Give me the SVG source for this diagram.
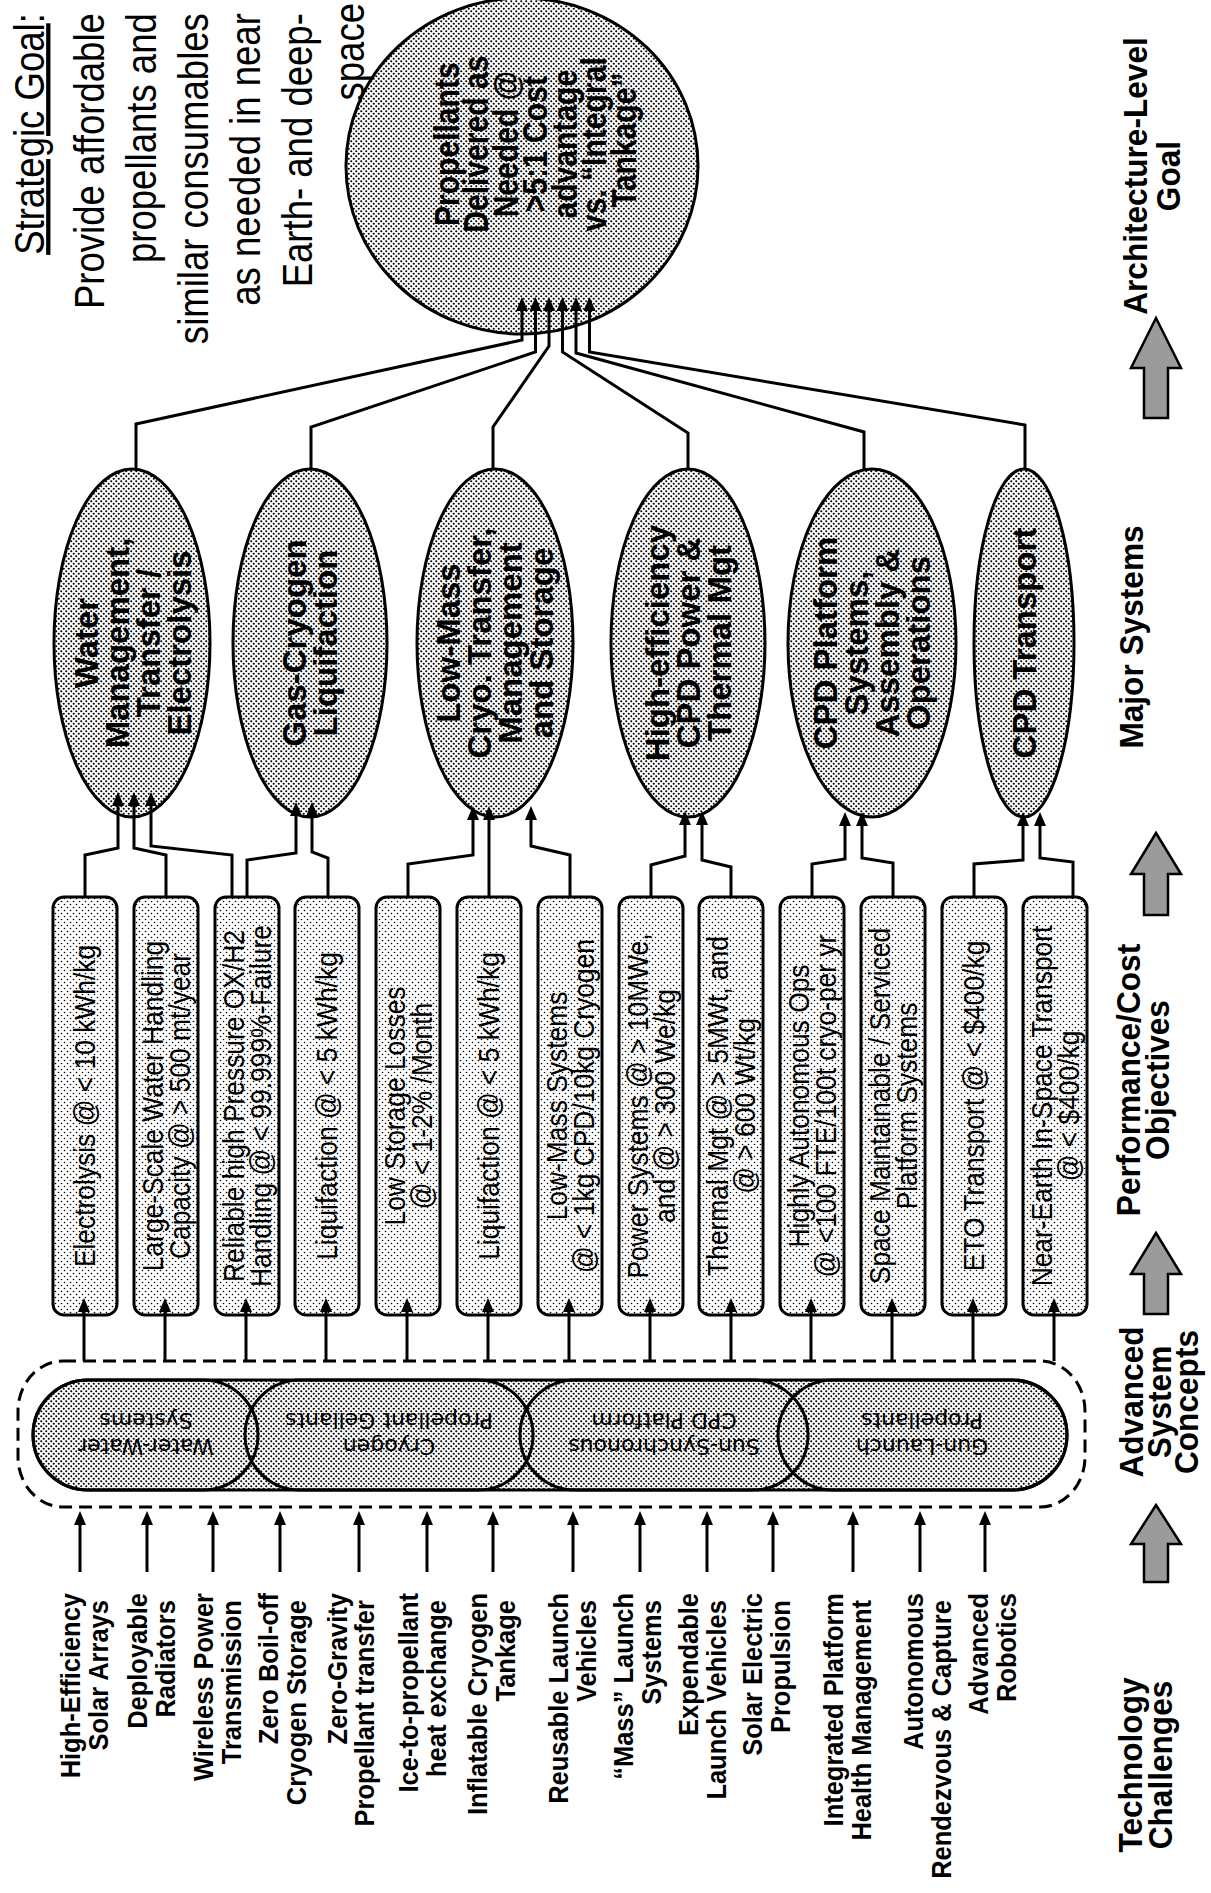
<svg xmlns="http://www.w3.org/2000/svg" width="1211" height="1893" viewBox="0 0 1211 1893">
<defs>
<pattern id="dd" width="5" height="5" patternUnits="userSpaceOnUse"><rect width="5" height="5" fill="#fff"/><circle cx="1.25" cy="1.25" r="1.05" fill="#000"/><circle cx="3.75" cy="3.75" r="1.05" fill="#000"/></pattern>
<pattern id="ld" width="6" height="6" patternUnits="userSpaceOnUse"><rect width="6" height="6" fill="#fff"/><circle cx="1.5" cy="1.5" r="0.8" fill="#000"/><circle cx="4.5" cy="4.5" r="0.8" fill="#000"/></pattern>
<marker id="ah" viewBox="0 0 14 12" refX="6" refY="6" markerWidth="14" markerHeight="12" markerUnits="userSpaceOnUse" orient="auto"><path d="M0,0 L14,6 L0,12 z" fill="#000"/></marker>
<style>
.ln{fill:none;stroke:#000;stroke-width:3}
.ar{marker-end:url(#ah)}
.ell{fill:url(#dd);stroke:#000;stroke-width:3}
.box{fill:url(#ld);stroke:#000;stroke-width:3}
.cap{fill:none;stroke:#000;stroke-width:3}
.sg{font-family:"Liberation Sans",Arial,sans-serif;font-size:43px}
.bt{font-family:"Liberation Sans",Arial,sans-serif;font-weight:bold}
.big{font-size:35px}
.maj{font-size:34px}
.lbl{font-size:34px}
.tc{font-size:28px}
.pt{font-family:"Liberation Sans",Arial,sans-serif;font-size:29px}
.cs{font-family:"DejaVu Sans",sans-serif;font-size:22px}
.garr{fill:#9b9b9b;stroke:#000;stroke-width:2.5}
</style>
</defs>
<rect width="1211" height="1893" fill="#fff"/>

<g id="goal">
<ellipse class="ell" cx="522" cy="166" rx="176" ry="168"/>
<text class="bt big" transform="translate(0,140) rotate(-90) scale(0.86,1)" text-anchor="middle">
<tspan x="0" y="459">Propellants</tspan>
<tspan x="0" y="488.5">Delivered as</tspan>
<tspan x="0" y="518">Needed @</tspan>
<tspan x="0" y="547.5">&gt;5:1 Cost</tspan>
<tspan x="0" y="577">advantage</tspan>
<tspan x="0" y="606.5">vs. “Integral</tspan>
<tspan x="0" y="636">Tankage”</tspan>
</text>
</g>

<g id="strategic-goal">
<text class="sg" transform="translate(0,3) rotate(-90) scale(0.85,1)" text-anchor="end">
<tspan x="0" y="44"><tspan text-decoration="underline">Strategic Goal</tspan>:</tspan>
<tspan x="0" y="104">Provide affordable</tspan>
<tspan x="0" y="156">propellants and</tspan>
<tspan x="0" y="208">similar consumables</tspan>
<tspan x="0" y="260">as needed in near</tspan>
<tspan x="0" y="312">Earth- and deep-</tspan>
<tspan x="0" y="364">space</tspan>
</text>
</g>

<g id="major-systems">
<g id="ms-water"><ellipse class="ell" cx="132" cy="643" rx="78" ry="174"/>
<text class="bt maj" transform="translate(0,643) rotate(-90) scale(0.97,1)" text-anchor="middle"><tspan x="0" y="98">Water</tspan><tspan x="0" y="129">Management,</tspan><tspan x="0" y="160">Transfer /</tspan><tspan x="0" y="191">Electrolysis</tspan></text></g>
<g id="ms-gas"><ellipse class="ell" cx="310" cy="643" rx="77" ry="174"/>
<text class="bt maj" transform="translate(0,643) rotate(-90) scale(0.97,1)" text-anchor="middle"><tspan x="0" y="306">Gas-Cryogen</tspan><tspan x="0" y="337">Liquifaction</tspan></text></g>
<g id="ms-lowmass"><ellipse class="ell" cx="495" cy="643" rx="78" ry="174"/>
<text class="bt maj" transform="translate(0,643) rotate(-90) scale(0.97,1)" text-anchor="middle"><tspan x="0" y="460">Low-Mass</tspan><tspan x="0" y="491">Cryo. Transfer,</tspan><tspan x="0" y="522">Management</tspan><tspan x="0" y="553">and Storage</tspan></text></g>
<g id="ms-power"><ellipse class="ell" cx="688" cy="643" rx="77" ry="174"/>
<text class="bt maj" transform="translate(0,643) rotate(-90) scale(0.97,1)" text-anchor="middle"><tspan x="0" y="669">High-efficiency</tspan><tspan x="0" y="700">CPD Power &amp;</tspan><tspan x="0" y="731">Thermal Mgt</tspan></text></g>
<g id="ms-platform"><ellipse class="ell" cx="872" cy="643" rx="84" ry="174"/>
<text class="bt maj" transform="translate(0,643) rotate(-90) scale(0.97,1)" text-anchor="middle"><tspan x="0" y="837">CPD Platform</tspan><tspan x="0" y="868">Systems,</tspan><tspan x="0" y="899">Assembly &amp;</tspan><tspan x="0" y="930">Operations</tspan></text></g>
<g id="ms-transport"><ellipse class="ell" cx="1024" cy="643" rx="50" ry="174"/>
<text class="bt maj" transform="translate(0,643) rotate(-90) scale(0.97,1)" text-anchor="middle"><tspan x="0" y="1036">CPD Transport</tspan></text></g>
</g>

<g id="objectives">
<g id="ob0"><rect class="box" x="53" y="897" width="64" height="418" rx="11"/><text class="pt" transform="translate(0,1106) rotate(-90) scale(0.91,1)" text-anchor="middle"><tspan x="0" y="95">Electrolysis @ &lt; 10 kWh/kg</tspan></text></g>
<g id="ob1"><rect class="box" x="134" y="897" width="64" height="418" rx="11"/><text class="pt" transform="translate(0,1106) rotate(-90) scale(0.91,1)" text-anchor="middle"><tspan x="0" y="163">Large-Scale Water Handling</tspan><tspan x="0" y="190">Capacity @ &gt; 500 mt/year</tspan></text></g>
<g id="ob2"><rect class="box" x="215" y="897" width="64" height="418" rx="11"/><text class="pt" transform="translate(0,1106) rotate(-90) scale(0.91,1)" text-anchor="middle"><tspan x="0" y="244">Reliable high Pressure OX/H2</tspan><tspan x="0" y="271">Handling @ &lt; 99.999%-Failure</tspan></text></g>
<g id="ob3"><rect class="box" x="295" y="897" width="64" height="418" rx="11"/><text class="pt" transform="translate(0,1106) rotate(-90) scale(0.91,1)" text-anchor="middle"><tspan x="0" y="337">Liquifaction @ &lt; 5 kWh/kg</tspan></text></g>
<g id="ob4"><rect class="box" x="376" y="897" width="64" height="418" rx="11"/><text class="pt" transform="translate(0,1106) rotate(-90) scale(0.91,1)" text-anchor="middle"><tspan x="0" y="405">Low Storage Losses</tspan><tspan x="0" y="432">@ &lt; 1-2% /Month</tspan></text></g>
<g id="ob5"><rect class="box" x="457" y="897" width="64" height="418" rx="11"/><text class="pt" transform="translate(0,1106) rotate(-90) scale(0.91,1)" text-anchor="middle"><tspan x="0" y="499">Liquifaction @ &lt; 5 kWh/kg</tspan></text></g>
<g id="ob6"><rect class="box" x="538" y="897" width="64" height="418" rx="11"/><text class="pt" transform="translate(0,1106) rotate(-90) scale(0.91,1)" text-anchor="middle"><tspan x="0" y="567">Low-Mass Systems</tspan><tspan x="0" y="594">@ &lt; 1kg CPD/10kg Cryogen</tspan></text></g>
<g id="ob7"><rect class="box" x="619" y="897" width="64" height="418" rx="11"/><text class="pt" transform="translate(0,1106) rotate(-90) scale(0.91,1)" text-anchor="middle"><tspan x="0" y="648">Power Systems @ &gt; 10MWe,</tspan><tspan x="0" y="675">and @ &gt; 300 We/kg</tspan></text></g>
<g id="ob8"><rect class="box" x="699" y="897" width="64" height="418" rx="11"/><text class="pt" transform="translate(0,1106) rotate(-90) scale(0.91,1)" text-anchor="middle"><tspan x="0" y="728">Thermal Mgt @ &gt; 5MWt, and</tspan><tspan x="0" y="755">@ &gt; 600 Wt/kg</tspan></text></g>
<g id="ob9"><rect class="box" x="780" y="897" width="64" height="418" rx="11"/><text class="pt" transform="translate(0,1106) rotate(-90) scale(0.91,1)" text-anchor="middle"><tspan x="0" y="809">Highly Autonomous Ops</tspan><tspan x="0" y="836">@ &lt;100 FTE/100t cryo-per yr</tspan></text></g>
<g id="ob10"><rect class="box" x="861" y="897" width="64" height="418" rx="11"/><text class="pt" transform="translate(0,1106) rotate(-90) scale(0.91,1)" text-anchor="middle"><tspan x="0" y="890">Space Maintainable / Serviced</tspan><tspan x="0" y="917">Platform Systems</tspan></text></g>
<g id="ob11"><rect class="box" x="942" y="897" width="64" height="418" rx="11"/><text class="pt" transform="translate(0,1106) rotate(-90) scale(0.91,1)" text-anchor="middle"><tspan x="0" y="984">ETO Transport @ &lt; $400/kg</tspan></text></g>
<g id="ob12"><rect class="box" x="1023" y="897" width="64" height="418" rx="11"/><text class="pt" transform="translate(0,1106) rotate(-90) scale(0.91,1)" text-anchor="middle"><tspan x="0" y="1052">Near-Earth In-Space Transport</tspan><tspan x="0" y="1079">@ &lt; $400/kg</tspan></text></g>
</g>

<g id="concepts">
<rect x="18" y="1361" width="1067" height="146" rx="45" ry="50" fill="none" stroke="#000" stroke-width="3" stroke-dasharray="13 7"/>
<rect x="33" y="1380" width="1034" height="110" rx="55" class="ell"/>
<g id="c-water"><rect class="cap" x="33" y="1380" width="225" height="110" rx="55"/>
<text class="cs" transform="translate(146,1435) rotate(180)" text-anchor="middle"><tspan x="0" y="-4">Water-Water</tspan><tspan x="0" y="22">Systems</tspan></text></g>
<g id="c-gel"><rect class="cap" x="245" y="1380" width="288" height="110" rx="55"/>
<text class="cs" transform="translate(389,1435) rotate(180)" text-anchor="middle"><tspan x="0" y="-4">Cryogen</tspan><tspan x="0" y="22">Propellant Gellants</tspan></text></g>
<g id="c-sun"><rect class="cap" x="520" y="1380" width="288" height="110" rx="55"/>
<text class="cs" transform="translate(664,1435) rotate(180)" text-anchor="middle"><tspan x="0" y="-4">Sun-Synchronous</tspan><tspan x="0" y="22">CPD Platform</tspan></text></g>
<g id="c-gun"><rect class="cap" x="778" y="1380" width="289" height="110" rx="55"/>
<text class="cs" transform="translate(922,1435) rotate(180)" text-anchor="middle"><tspan x="0" y="-4">Gun-Launch</tspan><tspan x="0" y="22">Propellants</tspan></text></g>
</g>

<g id="challenges">
<text class="bt tc" transform="translate(0,1593) rotate(-90) scale(0.91,1)" text-anchor="end">
<tspan x="0" y="80">High-Efficiency</tspan><tspan x="0" y="108">Solar Arrays</tspan>
<tspan x="0" y="147">Deployable</tspan><tspan x="0" y="175">Radiators</tspan>
<tspan x="0" y="213">Wireless Power</tspan><tspan x="0" y="241">Transmission</tspan>
<tspan x="0" y="278">Zero Boil-off</tspan><tspan x="0" y="306">Cryogen Storage</tspan>
<tspan x="0" y="347">Zero-Gravity</tspan><tspan x="0" y="374">Propellant transfer</tspan>
<tspan x="0" y="418">Ice-to-propellant</tspan><tspan x="0" y="446">heat exchange</tspan>
<tspan x="0" y="487">Inflatable Cryogen</tspan><tspan x="0" y="515">Tankage</tspan>
<tspan x="0" y="568">Reusable Launch</tspan><tspan x="0" y="596">Vehicles</tspan>
<tspan x="0" y="633">“Mass” Launch</tspan><tspan x="0" y="661">Systems</tspan>
<tspan x="0" y="698">Expendable</tspan><tspan x="0" y="726">Launch Vehicles</tspan>
<tspan x="0" y="762">Solar Electric</tspan><tspan x="0" y="790">Propulsion</tspan>
<tspan x="0" y="843">Integrated Platform</tspan><tspan x="0" y="871">Health Management</tspan>
<tspan x="0" y="923">Autonomous</tspan><tspan x="0" y="951">Rendezvous &amp; Capture</tspan>
<tspan x="0" y="988">Advanced</tspan><tspan x="0" y="1016">Robotics</tspan>
</text>
</g>

<g id="level-labels">
<text class="bt lbl" transform="translate(0,176) rotate(-90) scale(0.93,1)" text-anchor="middle"><tspan x="0" y="1147">Architecture-Level</tspan><tspan x="0" y="1180">Goal</tspan></text>
<text class="bt lbl" transform="translate(0,637) rotate(-90) scale(0.93,1)" text-anchor="middle"><tspan x="0" y="1143">Major Systems</tspan></text>
<text class="bt lbl" transform="translate(0,1080) rotate(-90) scale(0.93,1)" text-anchor="middle"><tspan x="0" y="1140">Performance/Cost</tspan><tspan x="0" y="1169">Objectives</tspan></text>
<text class="bt lbl" transform="translate(0,1402) rotate(-90) scale(0.93,1)" text-anchor="middle"><tspan x="0" y="1143">Advanced</tspan><tspan x="0" y="1171">System</tspan><tspan x="0" y="1198">Concepts</tspan></text>
<text class="bt lbl" transform="translate(0,1765) rotate(-90) scale(0.93,1)" text-anchor="middle"><tspan x="0" y="1142">Technology</tspan><tspan x="0" y="1172">Challenges</tspan></text>
<polygon class="garr" points="1156,318 1181,368 1168,368 1168,418 1144,418 1144,368 1131,368"/>
<polygon class="garr" points="1156,833 1181,874 1168,874 1168,915 1144,915 1144,874 1131,874"/>
<polygon class="garr" points="1156,1233 1181,1274 1168,1274 1168,1314 1144,1314 1144,1274 1131,1274"/>
<polygon class="garr" points="1156,1505 1181,1544 1168,1544 1168,1582 1144,1582 1144,1544 1131,1544"/>
</g>

<g id="connectors" class="ln">
<path class="ar" d="M136,470 L136,424 L522,340 L522,305"/>
<path class="ar" d="M311,470 L311,427 L535.5,352 L535.5,305"/>
<path class="ar" d="M493,470 L493,427 L549,346 L549,305"/>
<path class="ar" d="M688,470 L688,433 L562.5,352 L562.5,305"/>
<path class="ar" d="M864,470 L864,432 L576,353 L576,305"/>
<path class="ar" d="M1025,469 L1025,425 L589.5,352 L589.5,305"/>

<path class="ar" d="M85,897 L85,855 L118,848 L118,800"/>
<path class="ar" d="M166,897 L166,855 L134,848 L134,800"/>
<path class="ar" d="M232,897 L232,855 L151,846 L151,800"/>
<path class="ar" d="M247,897 L247,860 L296,853 L296,810"/>
<path class="ar" d="M328,897 L328,858 L312,852 L312,810"/>
<path class="ar" d="M408,897 L408,864 L473,855 L473,814"/>
<path class="ar" d="M489,897 L489,814"/>
<path class="ar" d="M570,897 L570,855 L531,846 L531,814"/>
<path class="ar" d="M651,897 L651,865 L685,856 L685,819"/>
<path class="ar" d="M731,897 L731,867 L702,860 L702,819"/>
<path class="ar" d="M812,897 L812,864 L845,859 L845,820"/>
<path class="ar" d="M893,897 L893,863 L862,858 L862,820"/>
<path class="ar" d="M974,897 L974,864 L1023,860 L1023,820"/>
<path class="ar" d="M1073,897 L1073,862 L1040,858 L1040,820"/>

<path class="ar" d="M84,1361 L84,1306"/>
<path class="ar" d="M165,1361 L165,1306"/>
<path class="ar" d="M246,1361 L246,1306"/>
<path class="ar" d="M326,1361 L326,1306"/>
<path class="ar" d="M407,1361 L407,1306"/>
<path class="ar" d="M488,1361 L488,1306"/>
<path class="ar" d="M569,1361 L569,1306"/>
<path class="ar" d="M650,1361 L650,1306"/>
<path class="ar" d="M731,1361 L731,1306"/>
<path class="ar" d="M811,1361 L811,1306"/>
<path class="ar" d="M892,1361 L892,1306"/>
<path class="ar" d="M973,1361 L973,1306"/>
<path class="ar" d="M1054,1361 L1054,1306"/>

<path class="ar" d="M80,1572 L80,1519"/>
<path class="ar" d="M147,1572 L147,1519"/>
<path class="ar" d="M213,1572 L213,1519"/>
<path class="ar" d="M280,1572 L280,1519"/>
<path class="ar" d="M359,1572 L359,1519"/>
<path class="ar" d="M427,1572 L427,1519"/>
<path class="ar" d="M493,1572 L493,1519"/>
<path class="ar" d="M573,1572 L573,1519"/>
<path class="ar" d="M640,1572 L640,1519"/>
<path class="ar" d="M707,1572 L707,1519"/>
<path class="ar" d="M773,1572 L773,1519"/>
<path class="ar" d="M853,1572 L853,1519"/>
<path class="ar" d="M920,1572 L920,1519"/>
<path class="ar" d="M985,1572 L985,1519"/>
</g>
</svg>
